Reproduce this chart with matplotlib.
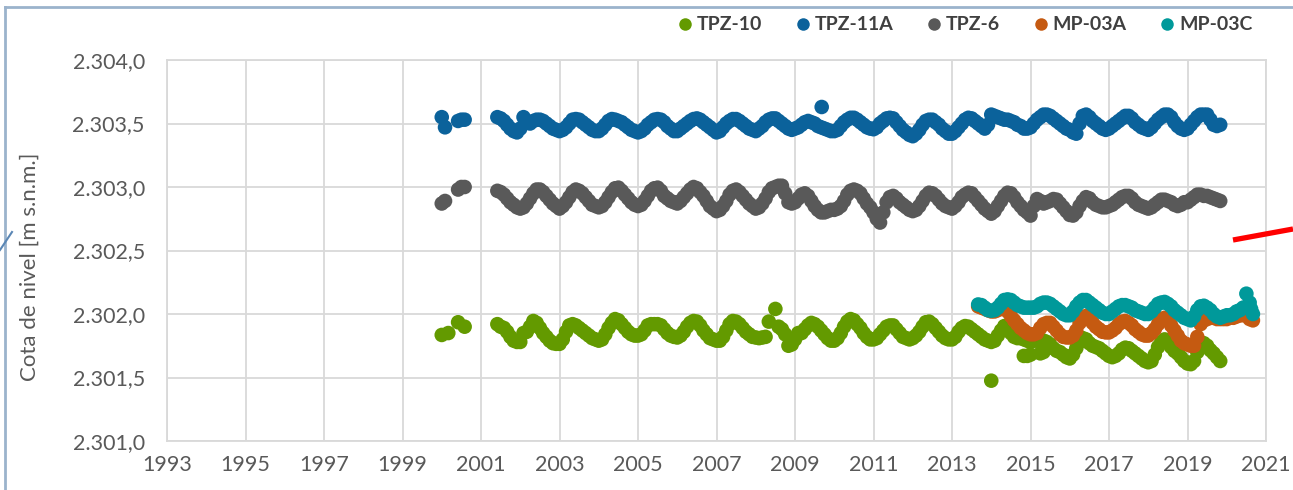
import numpy as np
import matplotlib.pyplot as plt
from matplotlib.lines import Line2D
from matplotlib.ticker import FuncFormatter, MultipleLocator

plt.rcParams['font.family'] = ['Lato', 'DejaVu Sans']

nan = np.nan

# Monthly readings, Jan..Dec per row, m s.n.m.
TPZ10_START = 2000.0
tpz10 = [
    2301.835, nan, 2301.85, nan, nan, 2301.935, nan, 2301.90, nan, nan, nan, nan,                   # 2000
    nan, nan, nan, nan, nan, 2301.92, 2301.90, 2301.89, 2301.86, 2301.82, 2301.79, 2301.78,          # 2001
    2301.78, 2301.85, 2301.86, 2301.90, 2301.945, 2301.93, 2301.89, 2301.85, 2301.82, 2301.79, 2301.77, 2301.765,  # 2002
    2301.765, 2301.80, 2301.86, 2301.91, 2301.92, 2301.91, 2301.89, 2301.87, 2301.85, 2301.83, 2301.81, 2301.80,  # 2003
    2301.79, 2301.80, 2301.84, 2301.89, 2301.93, 2301.96, 2301.95, 2301.92, 2301.89, 2301.86, 2301.84, 2301.83,   # 2004
    2301.83, 2301.84, 2301.87, 2301.91, 2301.92, 2301.92, 2301.92, 2301.91, 2301.88, 2301.85, 2301.83, 2301.82,   # 2005
    2301.815, 2301.83, 2301.86, 2301.90, 2301.93, 2301.945, 2301.94, 2301.91, 2301.87, 2301.84, 2301.81, 2301.80, # 2006
    2301.79, 2301.79, 2301.82, 2301.87, 2301.92, 2301.945, 2301.94, 2301.92, 2301.89, 2301.86, 2301.84, 2301.82,  # 2007
    2301.815, 2301.81, 2301.815, 2301.82, 2301.94, nan, 2302.04, 2301.90, 2301.88, 2301.84, 2301.75, 2301.76,     # 2008
    2301.80, 2301.85, 2301.85, 2301.88, 2301.91, 2301.93, 2301.92, 2301.90, 2301.87, 2301.84, 2301.81, 2301.79,   # 2009
    2301.79, 2301.81, 2301.85, 2301.90, 2301.94, 2301.96, 2301.95, 2301.92, 2301.89, 2301.85, 2301.82, 2301.80,   # 2010
    2301.80, 2301.81, 2301.84, 2301.87, 2301.90, 2301.91, 2301.91, 2301.88, 2301.85, 2301.82, 2301.81, 2301.80,   # 2011
    2301.81, 2301.83, 2301.86, 2301.90, 2301.935, 2301.94, 2301.92, 2301.89, 2301.86, 2301.83, 2301.81, 2301.80,  # 2012
    2301.80, 2301.82, 2301.86, 2301.89, 2301.905, 2301.90, 2301.88, 2301.86, 2301.84, 2301.82, 2301.80, 2301.79,  # 2013
    2301.78, 2301.79, 2301.83, 2301.87, 2301.905, 2301.89, 2301.85, 2301.82, 2301.81, 2301.81, 2301.80, 2301.79,  # 2014
    2301.78, 2301.79, 2301.79, 2301.79, 2301.79, 2301.78, 2301.76, 2301.73, 2301.71, 2301.70, 2301.68, 2301.66,   # 2015
    2301.65, 2301.68, 2301.73, 2301.78, 2301.81, 2301.80, 2301.77, 2301.75, 2301.74, 2301.73, 2301.71, 2301.69,   # 2016
    2301.67, 2301.66, 2301.67, 2301.69, 2301.72, 2301.735, 2301.73, 2301.71, 2301.69, 2301.67, 2301.65, 2301.63,  # 2017
    2301.62, 2301.63, 2301.68, 2301.74, 2301.78, 2301.80, 2301.78, 2301.74, 2301.71, 2301.69, 2301.66, 2301.63,   # 2018
    2301.61, 2301.605, 2301.63, 2301.70, 2301.75, 2301.77, 2301.75, 2301.715, 2301.69, 2301.66, 2301.63, nan,     # 2019
]
tpz10_extra_t = [2014.0, 2014.83, 2014.92, 2015.0, 2015.25, 2015.33]
tpz10_extra_v = [2301.475, 2301.67, 2301.67, 2301.68, 2301.69, 2301.70]

TPZ11A_START = 2000.0
tpz11a = [
    2303.55, 2303.47, nan, nan, nan, 2303.52, 2303.53, 2303.53, nan, nan, nan, nan,                  # 2000
    nan, nan, nan, nan, nan, 2303.55, 2303.54, 2303.52, 2303.49, 2303.46, 2303.44, 2303.43,          # 2001
    2303.46, 2303.55, 2303.52, 2303.50, 2303.52, 2303.53, 2303.53, 2303.52, 2303.50, 2303.48, 2303.46, 2303.45,  # 2002
    2303.44, 2303.45, 2303.47, 2303.50, 2303.53, 2303.535, 2303.53, 2303.51, 2303.49, 2303.47, 2303.45, 2303.44, # 2003
    2303.44, 2303.46, 2303.49, 2303.52, 2303.535, 2303.53, 2303.52, 2303.51, 2303.49, 2303.47, 2303.45, 2303.44, # 2004
    2303.43, 2303.44, 2303.46, 2303.49, 2303.51, 2303.53, 2303.535, 2303.53, 2303.51, 2303.48, 2303.46, 2303.44, # 2005
    2303.44, 2303.46, 2303.48, 2303.50, 2303.52, 2303.535, 2303.54, 2303.53, 2303.51, 2303.49, 2303.47, 2303.45, # 2006
    2303.43, 2303.44, 2303.47, 2303.50, 2303.52, 2303.535, 2303.535, 2303.52, 2303.50, 2303.48, 2303.46, 2303.45,# 2007
    2303.44, 2303.46, 2303.48, 2303.51, 2303.53, 2303.54, 2303.54, 2303.52, 2303.50, 2303.48, 2303.46, 2303.45,  # 2008
    2303.46, 2303.47, 2303.49, 2303.51, 2303.52, 2303.51, 2303.50, 2303.48, 2303.47, 2303.46, 2303.45, 2303.44,  # 2009
    2303.44, 2303.45, 2303.48, 2303.51, 2303.53, 2303.545, 2303.545, 2303.53, 2303.51, 2303.49, 2303.47, 2303.46,# 2010
    2303.455, 2303.47, 2303.50, 2303.52, 2303.54, 2303.545, 2303.54, 2303.51, 2303.48, 2303.45, 2303.43, 2303.41,# 2011
    2303.40, 2303.42, 2303.45, 2303.49, 2303.52, 2303.53, 2303.53, 2303.51, 2303.49, 2303.46, 2303.44, 2303.42,  # 2012
    2303.42, 2303.44, 2303.47, 2303.50, 2303.53, 2303.545, 2303.54, 2303.52, 2303.50, 2303.48, 2303.46, 2303.49, # 2013
    2303.57, 2303.56, 2303.55, 2303.54, 2303.53, 2303.53, 2303.52, 2303.51, 2303.49, 2303.48, 2303.46, 2303.46,  # 2014
    2303.47, 2303.50, 2303.53, 2303.55, 2303.57, 2303.57, 2303.56, 2303.54, 2303.52, 2303.50, 2303.48, 2303.46,  # 2015
    2303.45, 2303.43, 2303.42, 2303.50, 2303.56, 2303.57, 2303.55, 2303.52, 2303.50, 2303.48, 2303.46, 2303.45,  # 2016
    2303.46, 2303.48, 2303.50, 2303.52, 2303.54, 2303.56, 2303.56, 2303.54, 2303.51, 2303.49, 2303.47, 2303.46,  # 2017
    2303.45, 2303.47, 2303.50, 2303.53, 2303.55, 2303.57, 2303.57, 2303.55, 2303.51, 2303.48, 2303.46, 2303.45,  # 2018
    2303.46, 2303.49, 2303.52, 2303.55, 2303.57, 2303.57, 2303.57, 2303.53, 2303.49, 2303.48, 2303.49, nan,      # 2019
]
tpz11a_extra_t = [2009.68]
tpz11a_extra_v = [2303.63]

TPZ6_START = 2000.0
tpz6 = [
    2302.87, 2302.89, nan, nan, nan, 2302.98, 2303.00, 2303.00, nan, nan, nan, nan,                  # 2000
    nan, nan, nan, nan, nan, 2302.97, 2302.96, 2302.94, 2302.91, 2302.88, 2302.86, 2302.84,          # 2001
    2302.83, 2302.84, 2302.87, 2302.91, 2302.95, 2302.98, 2302.98, 2302.96, 2302.93, 2302.90, 2302.87, 2302.85,  # 2002
    2302.83, 2302.85, 2302.88, 2302.92, 2302.96, 2302.98, 2302.97, 2302.95, 2302.92, 2302.89, 2302.86, 2302.85,  # 2003
    2302.84, 2302.85, 2302.88, 2302.92, 2302.96, 2302.99, 2302.995, 2302.97, 2302.94, 2302.91, 2302.88, 2302.86, # 2004
    2302.85, 2302.86, 2302.89, 2302.93, 2302.97, 2302.99, 2302.995, 2302.97, 2302.93, 2302.91, 2302.89, 2302.88, # 2005
    2302.87, 2302.89, 2302.92, 2302.95, 2302.98, 2303.00, 2302.99, 2302.96, 2302.93, 2302.89, 2302.85, 2302.83,  # 2006
    2302.81, 2302.82, 2302.85, 2302.89, 2302.94, 2302.97, 2302.98, 2302.96, 2302.93, 2302.90, 2302.87, 2302.85,  # 2007
    2302.83, 2302.84, 2302.87, 2302.91, 2302.96, 2302.99, 2303.00, 2303.01, 2303.01, 2302.95, 2302.88, 2302.87,  # 2008
    2302.88, 2302.91, 2302.94, 2302.95, 2302.93, 2302.89, 2302.85, 2302.82, 2302.80, 2302.80, 2302.81, 2302.82,  # 2009
    2302.82, 2302.83, 2302.85, 2302.89, 2302.94, 2302.97, 2302.98, 2302.97, 2302.95, 2302.91, 2302.87, 2302.84,  # 2010
    2302.80, 2302.75, 2302.72, 2302.80, 2302.88, 2302.92, 2302.93, 2302.91, 2302.88, 2302.86, 2302.84, 2302.82,  # 2011
    2302.81, 2302.82, 2302.85, 2302.89, 2302.93, 2302.955, 2302.95, 2302.93, 2302.90, 2302.87, 2302.85, 2302.84, # 2012
    2302.83, 2302.85, 2302.88, 2302.92, 2302.94, 2302.955, 2302.95, 2302.92, 2302.89, 2302.86, 2302.83, 2302.81, # 2013
    2302.79, 2302.81, 2302.85, 2302.89, 2302.93, 2302.955, 2302.95, 2302.92, 2302.88, 2302.85, 2302.82, 2302.80, # 2014
    2302.775, 2302.85, 2302.905, 2302.89, 2302.87, 2302.88, 2302.89, 2302.905, 2302.90, 2302.87, 2302.84, 2302.81,  # 2015
    2302.78, 2302.775, 2302.80, 2302.85, 2302.89, 2302.92, 2302.91, 2302.88, 2302.86, 2302.85, 2302.84, 2302.84, # 2016
    2302.85, 2302.86, 2302.88, 2302.90, 2302.92, 2302.93, 2302.93, 2302.91, 2302.88, 2302.86, 2302.85, 2302.84,  # 2017
    2302.83, 2302.84, 2302.86, 2302.88, 2302.90, 2302.90, 2302.89, 2302.88, 2302.86, 2302.85, 2302.86, 2302.88,  # 2018
    2302.88, 2302.90, 2302.92, 2302.94, 2302.94, 2302.93, 2302.93, 2302.92, 2302.91, 2302.90, 2302.89, nan,      # 2019
]

MP03A_START = 2013.0
mp03a = [
    nan, nan, nan, nan, nan, nan, nan, nan, 2302.06, 2302.05, 2302.04, 2302.03,                      # 2013
    2302.02, 2302.02, 2302.03, 2302.05, 2302.06, 2302.02, 2301.985, 2301.95, 2301.92, 2301.89, 2301.87, 2301.85,  # 2014
    2301.84, 2301.84, 2301.85, 2301.89, 2301.92, 2301.93, 2301.93, 2301.90, 2301.87, 2301.84, 2301.82, 2301.815,  # 2015
    2301.815, 2301.83, 2301.87, 2301.93, 2301.97, 2301.985, 2301.96, 2301.93, 2301.90, 2301.88, 2301.86, 2301.855,# 2016
    2301.855, 2301.87, 2301.89, 2301.92, 2301.94, 2301.945, 2301.93, 2301.91, 2301.88, 2301.86, 2301.84, 2301.83, # 2017
    2301.83, 2301.85, 2301.88, 2301.92, 2301.96, 2301.97, 2301.95, 2301.91, 2301.87, 2301.83, 2301.79, 2301.77,   # 2018
    2301.76, 2301.75, 2301.75, 2301.82, 2301.92, 2301.95, 2301.96, 2301.97, 2301.97, 2301.96, 2301.96, 2301.96,   # 2019
    2301.96, 2301.97, 2301.97, 2301.98, 2301.99, 2301.99, 2301.99, 2301.96, 2301.95,                              # 2020
]

MP03C_START = 2013.0
mp03c = [
    nan, nan, nan, nan, nan, nan, nan, nan, 2302.075, 2302.07, 2302.05, 2302.03,                     # 2013
    2302.026, 2302.03, 2302.05, 2302.08, 2302.11, 2302.115, 2302.11, 2302.09, 2302.07, 2302.06, 2302.05, 2302.05,  # 2014
    2302.05, 2302.05, 2302.06, 2302.08, 2302.09, 2302.09, 2302.08, 2302.06, 2302.04, 2302.02, 2302.00, 2301.99,   # 2015
    2301.99, 2302.02, 2302.06, 2302.09, 2302.11, 2302.11, 2302.09, 2302.07, 2302.05, 2302.03, 2302.01, 2302.00,   # 2016
    2302.00, 2302.02, 2302.04, 2302.06, 2302.07, 2302.07, 2302.06, 2302.05, 2302.03, 2302.02, 2302.01, 2302.00,   # 2017
    2302.00, 2302.02, 2302.05, 2302.08, 2302.09, 2302.095, 2302.08, 2302.06, 2302.03, 2302.01, 2301.99, 2301.97,  # 2018
    2301.96, 2301.95, 2301.98, 2302.03, 2302.06, 2302.065, 2302.05, 2302.03, 2302.00, 2301.98, 2301.97, 2301.98,  # 2019
    2301.99, 2301.99, 2302.00, 2302.02, 2302.03, 2302.05, 2302.16, 2302.09, 2302.00,                              # 2020
]
mp03c_extra_t = [2020.62]
mp03c_extra_v = [2302.04]

names = ['TPZ-10', 'TPZ-11A', 'TPZ-6', 'MP-03A', 'MP-03C']
colors = ['#639A00', '#0B629B', '#595959', '#C55A11', '#00999A']
year_ticks = list(range(1993, 2022, 2))


def monthly(start, values, extra_t=(), extra_v=()):
    t = start + np.arange(len(values)) / 12.0
    v = np.asarray(values, dtype=float)
    t = np.concatenate([t, extra_t])
    v = np.concatenate([v, extra_v])
    keep = ~np.isnan(v)
    return t[keep], v[keep]


def es_number(v, pos=None):
    s = f'{v:,.1f}'
    return s.replace(',', '#').replace('.', ',').replace('#', '.')


series = [
    monthly(TPZ10_START, tpz10, tpz10_extra_t, tpz10_extra_v),
    monthly(TPZ11A_START, tpz11a, tpz11a_extra_t, tpz11a_extra_v),
    monthly(TPZ6_START, tpz6),
    monthly(MP03A_START, mp03a),
    monthly(MP03C_START, mp03c, mp03c_extra_t, mp03c_extra_v),
]

W, H = 1293, 490
fig = plt.figure(figsize=(W / 100, H / 100), dpi=100)
ax = fig.add_axes([167 / W, 1 - 441 / H, (1266 - 167) / W, (441 - 60) / H])

for (t, v), name, c in zip(series, names, colors):
    ax.scatter(t, v, s=110, color=c, edgecolors='none', label=name, zorder=3)

ax.set_xlim(1993, 2021)
ax.set_ylim(2301.0, 2304.0)
ax.set_xticks(year_ticks)
ax.yaxis.set_major_locator(MultipleLocator(0.5))
ax.yaxis.set_major_formatter(FuncFormatter(es_number))
ax.grid(True, color='#D9D9D9', lw=1.3, zorder=0)
for sp in ax.spines.values():
    sp.set_color('#D9D9D9')
    sp.set_linewidth(1.3)
ax.tick_params(length=0, labelsize=15.5, labelcolor='#595959')
ax.tick_params(axis='y', pad=16)
ax.tick_params(axis='x', pad=10)

fig.text(30 / W, 1 - 267 / H, 'Cota de nivel [m s.n.m.]', rotation=90,
         ha='center', va='center', fontsize=16, color='#595959')

handles = [Line2D([], [], ls='none', marker='o', ms=9, color=c,
                  markeredgewidth=0) for c in colors]
fig.legend(handles, names, ncol=5, loc='center right',
           bbox_to_anchor=(1262 / W, 1 - 25 / H), frameon=False,
           handlelength=0.6, handletextpad=0.3, columnspacing=1.8,
           borderpad=0, prop={'size': 14, 'weight': 'bold'},
           labelcolor='#404040')

# outer chart frame and callout strokes
edge = '#9BB3CC'
fig.add_artist(Line2D([5 / W, 1], [1 - 7 / H, 1 - 7 / H], color=edge, lw=2))
fig.add_artist(Line2D([5 / W, 5 / W], [0, 1 - 7 / H], color=edge, lw=2))
fig.add_artist(Line2D([0, 12 / W], [1 - 250 / H, 1 - 232 / H],
                      color='#5B87B5', lw=1.5))
fig.add_artist(Line2D([1233 / W, 1], [1 - 240 / H, 1 - 229 / H],
                      color='#FF0000', lw=3.8, solid_capstyle='butt'))

fig.savefig('out.png', dpi=100)
